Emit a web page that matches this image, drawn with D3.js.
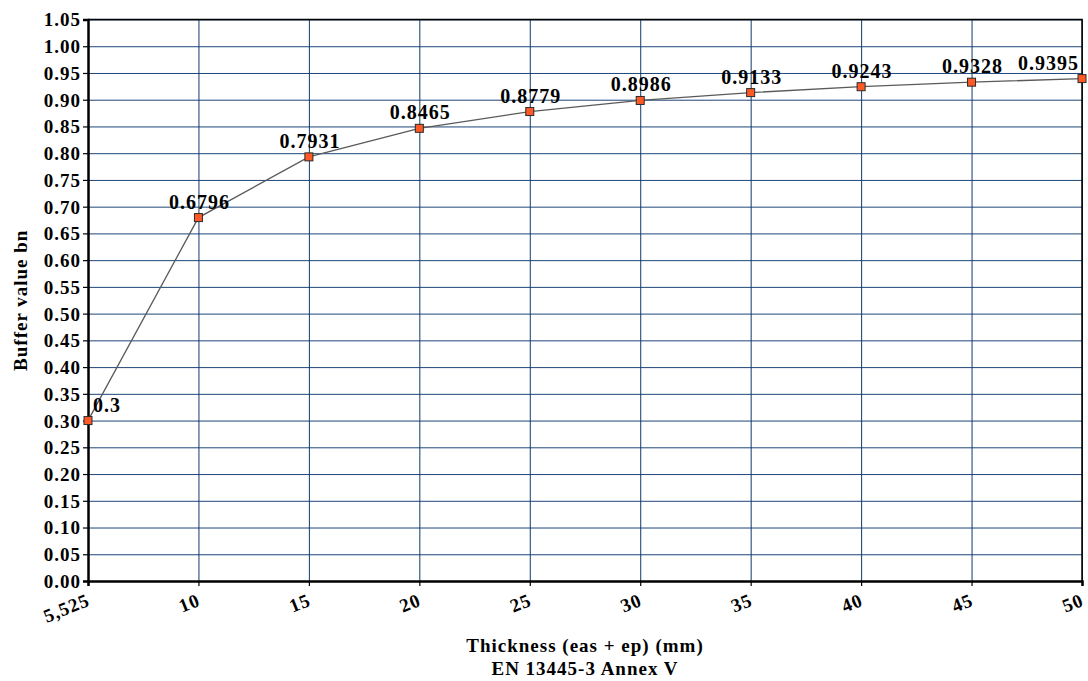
<!DOCTYPE html>
<html>
<head>
<meta charset="utf-8">
<script src="https://cdn.jsdelivr.net/npm/d3@7"></script>
<style>
  body { margin: 0; background: #fff; }
  text { font-family: "Liberation Serif", "Times New Roman", serif; font-weight: bold; fill: #000; }
  .tick-label { font-size: 19px; letter-spacing: 1px; }
  .data-label { font-size: 20px; letter-spacing: 1px; }
  .axis-title { font-size: 19px; letter-spacing: 1px; }
</style>
</head>
<body>
<div id="chart"></div>
<script>
// Thickness categories (x axis labels)
const thickness = ["5,525", "10", "15", "20", "25", "30", "35", "40", "45", "50"]
// Buffer value bn for each thickness
const bufferValues = [0.3, 0.6796, 0.7931, 0.8465, 0.8779, 0.8986, 0.9133, 0.9243, 0.9328, 0.9395]
// Y axis ticks
const yTicks = d3.range(0, 21 + 1).map(i => +(i * 0.05).toFixed(2))

const width = 1088
const height = 681
const plotLeft = 88, plotRight = 1082, plotTop = 19.5, plotBottom = 581

const svg = d3.select("#chart")
  .append("svg")
  .attr("width", width)
  .attr("height", height)

// Scales
const xScale = d3.scalePoint()
  .domain(thickness)
  .range([plotLeft, plotRight])
  .padding(0)

const yScale = d3.scaleLinear()
  .domain([0, 1.05])
  .range([plotBottom, plotTop])

// Grid lines
svg.append("g")
  .attr("transform", `translate(${plotLeft},0)`)
  .call(d3.axisLeft(yScale).tickValues(yTicks).tickSize(-(plotRight - plotLeft)).tickFormat(""))
  .call(g => g.select(".domain").remove())
  .selectAll("line").attr("stroke", "#1d4678").attr("stroke-width", 1)

svg.append("g")
  .attr("transform", `translate(0,${plotBottom})`)
  .call(d3.axisBottom(xScale).tickSize(-(plotBottom - plotTop)).tickFormat(""))
  .call(g => g.select(".domain").remove())
  .selectAll("line").attr("stroke", "#0f3a6c").attr("stroke-width", 1)

// Frame (top and right)
svg.append("path")
  .attr("d", `M${plotLeft},${plotTop}H${plotRight}V${plotBottom}`)
  .attr("fill", "none")
  .attr("stroke", "#000")
  .attr("stroke-width", 1.5)

// Y axis
const yAxis = svg.append("g")
  .attr("transform", `translate(${plotLeft},0)`)
  .call(d3.axisLeft(yScale).tickValues(yTicks).tickSize(5).tickPadding(2).tickFormat(d3.format(".2f")))
yAxis.select(".domain").attr("stroke", "#000").attr("stroke-width", 2.5)
yAxis.selectAll("line").attr("stroke", "#000").attr("stroke-width", 1.2)
yAxis.selectAll("text").attr("class", "tick-label").attr("dy", "0.34em")
yAxis.attr("font-size", null).attr("font-family", null)

// X axis
const xAxis = svg.append("g")
  .attr("transform", `translate(0,${plotBottom})`)
  .call(d3.axisBottom(xScale).tickSize(5).tickFormat(""))
xAxis.select(".domain").attr("stroke", "#000").attr("stroke-width", 2.5)
xAxis.selectAll("line").attr("stroke", "#000").attr("stroke-width", 1.2)

// Rotated x tick labels
svg.append("g")
  .selectAll("text")
  .data(thickness)
  .enter()
  .append("text")
  .attr("class", "tick-label")
  .attr("text-anchor", "end")
  .attr("transform", d => `translate(${xScale(d) + 3},605) rotate(-22)`)
  .text(d => d)

const points = thickness.map((t, i) => [t, bufferValues[i]])

// Line
svg.append("path")
  .datum(points)
  .attr("fill", "none")
  .attr("stroke", "#5a5a5a")
  .attr("stroke-width", 1.3)
  .attr("d", d3.line().x(d => xScale(d[0])).y(d => yScale(d[1])))

// Markers
svg.selectAll("rect.marker")
  .data(points)
  .enter()
  .append("rect")
  .attr("class", "marker")
  .attr("x", d => xScale(d[0]) - 4)
  .attr("y", d => yScale(d[1]) - 4)
  .attr("width", 8)
  .attr("height", 8)
  .attr("fill", "#ff5a26")
  .attr("stroke", "#2a2a2a")
  .attr("stroke-width", 1)

// Data labels
const last = points.length - 1
svg.selectAll("text.data-label")
  .data(points)
  .enter()
  .append("text")
  .attr("class", "data-label")
  .attr("text-anchor", (d, i) => i == 0 ? "start" : (i == last ? "end" : "middle"))
  .attr("x", (d, i) => i == 0 ? xScale(d[0]) + 5 : (i == last ? xScale(d[0]) - 3 : xScale(d[0]) + 1))
  .attr("y", d => yScale(d[1]) - 9)
  .text(d => d[1])

// Axis titles
svg.append("text")
  .attr("class", "axis-title")
  .attr("text-anchor", "middle")
  .attr("transform", `translate(27,${(plotTop + plotBottom) / 2}) rotate(-90)`)
  .text("Buffer value bn")

svg.append("text")
  .attr("class", "axis-title")
  .attr("text-anchor", "middle")
  .attr("x", (plotLeft + plotRight) / 2)
  .attr("y", 652)
  .text("Thickness (eas + ep) (mm)")

svg.append("text")
  .attr("class", "axis-title")
  .attr("text-anchor", "middle")
  .attr("x", (plotLeft + plotRight) / 2)
  .attr("y", 675)
  .text("EN 13445-3 Annex V")
</script>
</body>
</html>
